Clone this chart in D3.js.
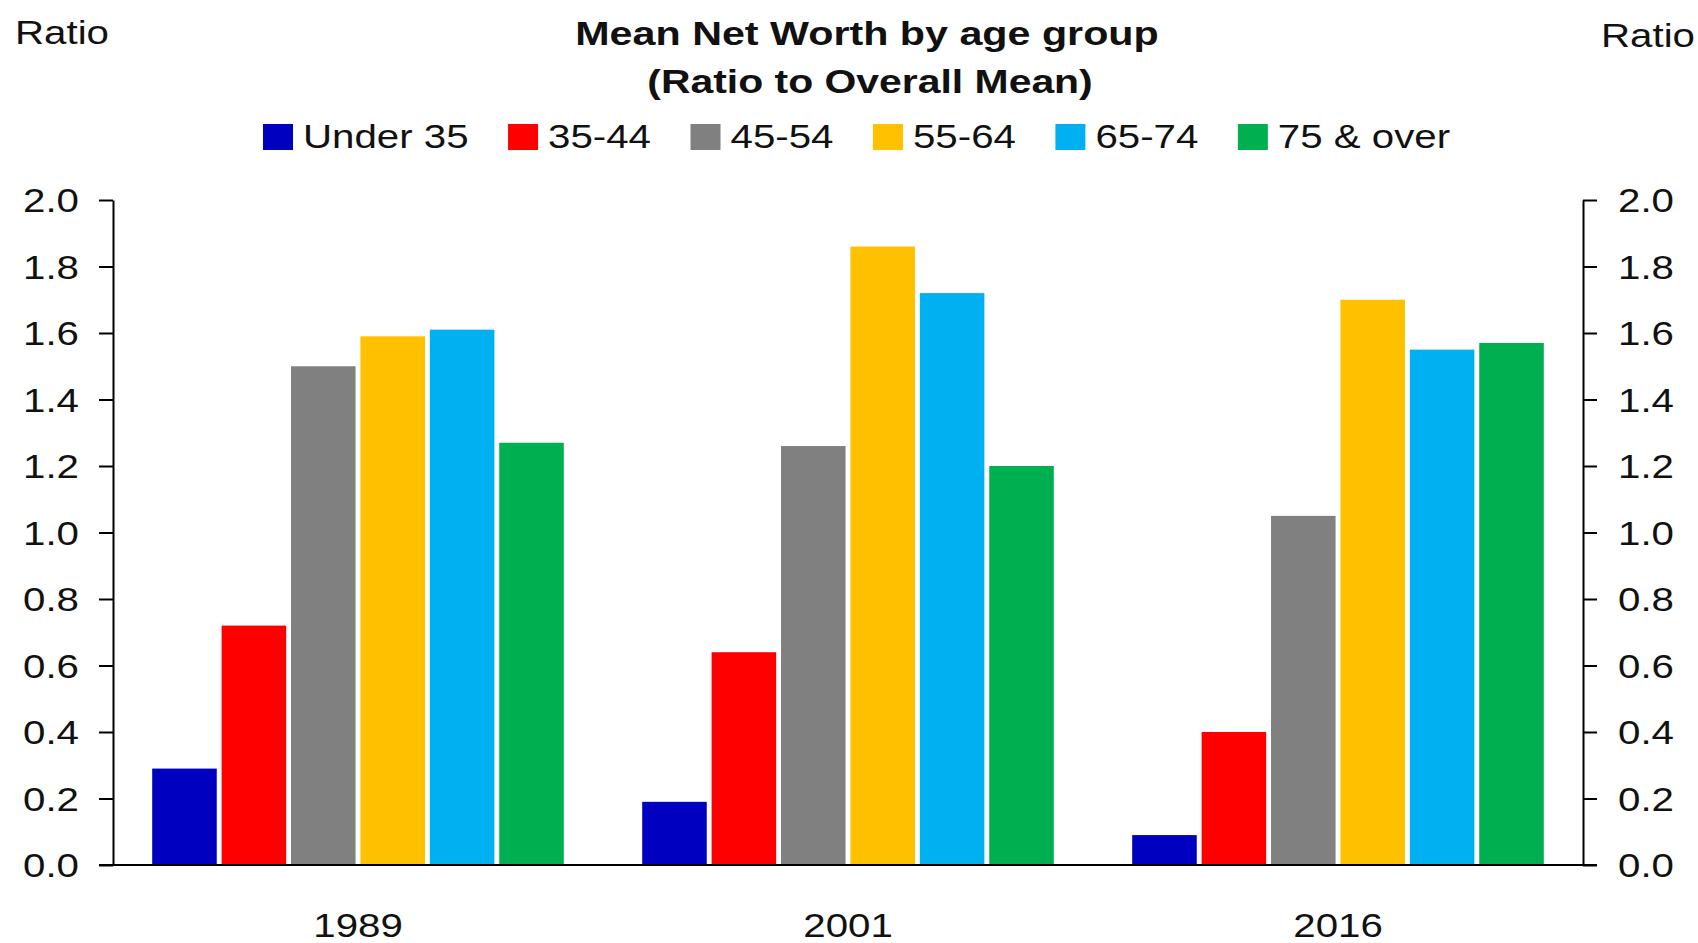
<!DOCTYPE html>
<html>
<head>
<meta charset="utf-8">
<script src="https://cdn.jsdelivr.net/npm/d3@7"></script>
<style>
  html, body { margin: 0; padding: 0; background: #fff; }
  svg { display: block; }
  text { font-family: "Liberation Sans", Arial, Helvetica, sans-serif; fill: #111; }
</style>
</head>
<body>
<svg id="chart" width="1698" height="943"></svg>
<script>
// ---- data ----
const years = ["1989", "2001", "2016"];
const groups = ["Under 35", "35-44", "45-54", "55-64", "65-74", "75 & over"];
const under35 = [0.29, 0.19, 0.09];
const age35_44 = [0.72, 0.64, 0.40];
const age45_54 = [1.50, 1.26, 1.05];
const age55_64 = [1.59, 1.86, 1.70];
const age65_74 = [1.61, 1.72, 1.55];
const age75plus = [1.27, 1.20, 1.57];
const colors = ["#0000C0", "#FF0000", "#808080", "#FFC000", "#00B0F0", "#00B050"];
const tickValues = [0, 0.2, 0.4, 0.6, 0.8, 1.0, 1.2, 1.4, 1.6, 1.8, 2.0];
const tickLabels = ["0.0", "0.2", "0.4", "0.6", "0.8", "1.0", "1.2", "1.4", "1.6", "1.8", "2.0"];
const titleLines = ["Mean Net Worth by age group", "(Ratio to Overall Mean)"];
const axisTitle = "Ratio";

const seriesValues = [under35, age35_44, age45_54, age55_64, age65_74, age75plus];
const rows = [];
years.forEach((yr, i) => groups.forEach((g, j) => rows.push({ year: yr, group: g, value: seriesValues[j][i], color: colors[j] })));

// ---- layout ----
const SX = 1.22;       // horizontal text stretch of the original
const FS = 33;
const plotLeft = 113, plotRight = 1583, plotTop = 200, plotBottom = 865;

const svg = d3.select("#chart");

const x0 = d3.scaleBand().domain(years).range([plotLeft, plotRight]).paddingInner(0.16).paddingOuter(0.08);
const x1 = d3.scaleBand().domain(groups).range([0, x0.bandwidth()]).paddingInner(0.07).paddingOuter(0);
const y = d3.scaleLinear().domain([0, 2]).range([plotBottom, plotTop]);

function stretchedText(sel, x, yPos, str, anchor, weight, sx) {
  return sel.append("text")
    .attr("transform", `translate(${x},${yPos}) scale(${sx || SX},1)`)
    .attr("text-anchor", anchor || "start")
    .attr("font-size", FS)
    .attr("font-weight", weight || "normal")
    .text(str);
}

// bars
svg.append("g").selectAll("rect").data(rows).join("rect")
  .attr("x", d => x0(d.year) + x1(d.group))
  .attr("width", x1.bandwidth())
  .attr("y", d => y(d.value))
  .attr("height", d => y(0) - y(d.value))
  .attr("fill", d => d.color);

// axes
const fmt = (d, i) => tickLabels[i];
const gl = svg.append("g").attr("transform", `translate(${plotLeft},0)`)
  .call(d3.axisLeft(y).tickValues(tickValues).tickFormat(fmt).tickSize(14).tickSizeOuter(0));
const gr = svg.append("g").attr("transform", `translate(${plotRight},0)`)
  .call(d3.axisRight(y).tickValues(tickValues).tickFormat(fmt).tickSize(14).tickSizeOuter(0));
[gl, gr].forEach((g, k) => {
  g.attr("font-family", null);
  g.select(".domain").attr("stroke", "#000").attr("stroke-width", 2);
  g.selectAll(".tick line").attr("stroke", "#000").attr("stroke-width", 2);
  g.selectAll(".tick text")
    .attr("font-size", FS)
    .attr("fill", "#111")
    .attr("x", null)
    .attr("dy", "0.35em")
    .attr("transform", k === 0 ? `translate(-34,0) scale(${SX},1)` : `translate(35,0) scale(${SX},1)`);
});

// baseline / category axis
const gx = svg.append("g").attr("transform", `translate(0,${plotBottom})`)
  .call(d3.axisBottom(x0).tickSize(0).tickSizeOuter(0));
gx.attr("font-family", null);
gx.select(".domain").attr("stroke", "#000").attr("stroke-width", 2)
  .attr("d", `M${plotLeft - 14},0H${plotRight + 14}`);
gx.selectAll(".tick text")
  .attr("font-size", FS)
  .attr("fill", "#111")
  .attr("y", null).attr("dy", null)
  .attr("transform", `translate(0,72) scale(${SX},1)`);

// titles
stretchedText(svg, 867, 45, titleLines[0], "middle", "bold", 1.25);
stretchedText(svg, 870, 93, titleLines[1], "middle", "bold", 1.24);
stretchedText(svg, 15, 44, axisTitle, "start");
stretchedText(svg, 1601, 47, axisTitle, "start");

// legend
const legend = svg.append("g");
let lx = 263;
groups.forEach((g, j) => {
  legend.append("rect").attr("x", lx).attr("y", 124).attr("width", 30).attr("height", 26).attr("fill", colors[j]);
  const t = stretchedText(legend, lx + 40, 148, g, "start");
  const w = t.node().getComputedTextLength() * SX;
  lx += 40 + w + 39.5;
});
</script>
</body>
</html>
